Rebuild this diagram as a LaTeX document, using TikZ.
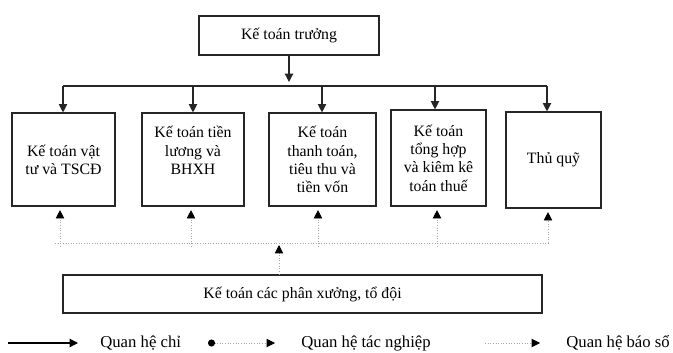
\documentclass[tikz,border=0pt]{standalone}
\usepackage{fontspec}
\setmainfont{Liberation Serif}
\usetikzlibrary{arrows.meta}

\begin{document}
\begin{tikzpicture}[x=0.02cm,y=-0.02cm]
%\draw[help lines] (0,0) grid (673,352);
\tikzstyle{v}=[rectangle,draw=black!85,line width=0.65pt,inner sep=1mm,align=center,font=\fontsize{9}{10.4}\selectfont]
\tikzstyle{chi}=[-{Triangle[length=4.8pt,width=4.8pt]},line width=0.65pt,draw=black!85]
\tikzstyle{bao}=[-{Triangle[length=4.8pt,width=4.8pt,black]},densely dotted,draw=black!35,line width=0.5pt]
\tikzstyle{lg}=[anchor=west,inner sep=0pt,font=\fontsize{9.5}{11}\selectfont]
\useasboundingbox (0,0) rectangle (673,352);

\node[v,minimum width=3.6cm,minimum height=0.78cm] (top) at (289,35.5) {Kế toán trưởng};

\node[v,minimum width=2.06cm,minimum height=1.86cm] (b1) at (63.5,159.5) {Kế toán vật\\tư và TSCĐ};
\node[v,minimum width=2.04cm,minimum height=1.86cm] (b2) at (193,159.5) {Kế toán tiền\\lương và\\BHXH\\\mbox{}};
\node[v,minimum width=2.14cm,minimum height=1.86cm] (b3) at (322.5,159.5) {Kế toán\\thanh toán,\\tiêu thu và\\tiền vốn};
\node[v,minimum width=1.9cm,minimum height=1.92cm] (b4) at (438.5,158) {Kế toán\\tổng hợp\\và kiêm kê\\toán thuế};
\node[v,minimum width=1.9cm,minimum height=1.92cm] (b5) at (553.5,160) {Thủ quỹ};

\node[v,minimum width=9.58cm,minimum height=0.76cm] (bot) at (302.5,294) {Kế toán các phân xưởng, tổ đội};

\coordinate (h) at (289,86);
\coordinate (t1) at (63,86);
\coordinate (t2) at (193,86);
\coordinate (t3) at (322,86);
\coordinate (t4) at (435,86);
\coordinate (t5) at (547,86);

\draw[chi,shorten >=0.08cm] (top.south) -- (h);
\draw[line width=0.65pt,draw=black!85] (t1) -- (t5);
\foreach \i in {1,...,5}
  \draw[chi] (t\i) -- (t\i |- b\i.north);

\coordinate (dl) at (55,243);
\coordinate (dr) at (550,243);
\coordinate (d1) at (60,247);
\coordinate (d2) at (191,247);
\coordinate (d3) at (318,247);
\coordinate (d4) at (437,247);
\coordinate (d5) at (548,243);
\coordinate (c) at (279,243);

\draw[densely dotted,draw=black!35,line width=0.5pt] (dl) -- (dr);
\foreach \i in {1,...,5}
  \draw[bao,shorten >=0.07cm] (d\i) -- (d\i |- b\i.south);
\draw[bao,shorten >=0.04cm] (c |- bot.north) -- (c);

\coordinate (l1a) at (8,343);
\coordinate (l1b) at (78,343);
\coordinate (l2a) at (208,343);
\coordinate (l2b) at (275,343);
\coordinate (l3a) at (485,343);
\coordinate (l3b) at (540,343);
\draw[chi,draw=black] (l1a) -- (l1b);
\draw[bao,{Circle[length=4pt,black]}-{Triangle[length=4.8pt,width=4.8pt,black]}] (l2a) -- (l2b);
\draw[bao] (l3a) -- (l3b);
\node[lg] (q1) at (100,343) {Quan hệ chỉ};
\node[lg] (q2) at (301,343) {Quan hệ tác nghiệp};
\node[lg] (q3) at (566,343) {Quan hệ báo sổ};
\end{tikzpicture}
\end{document}
